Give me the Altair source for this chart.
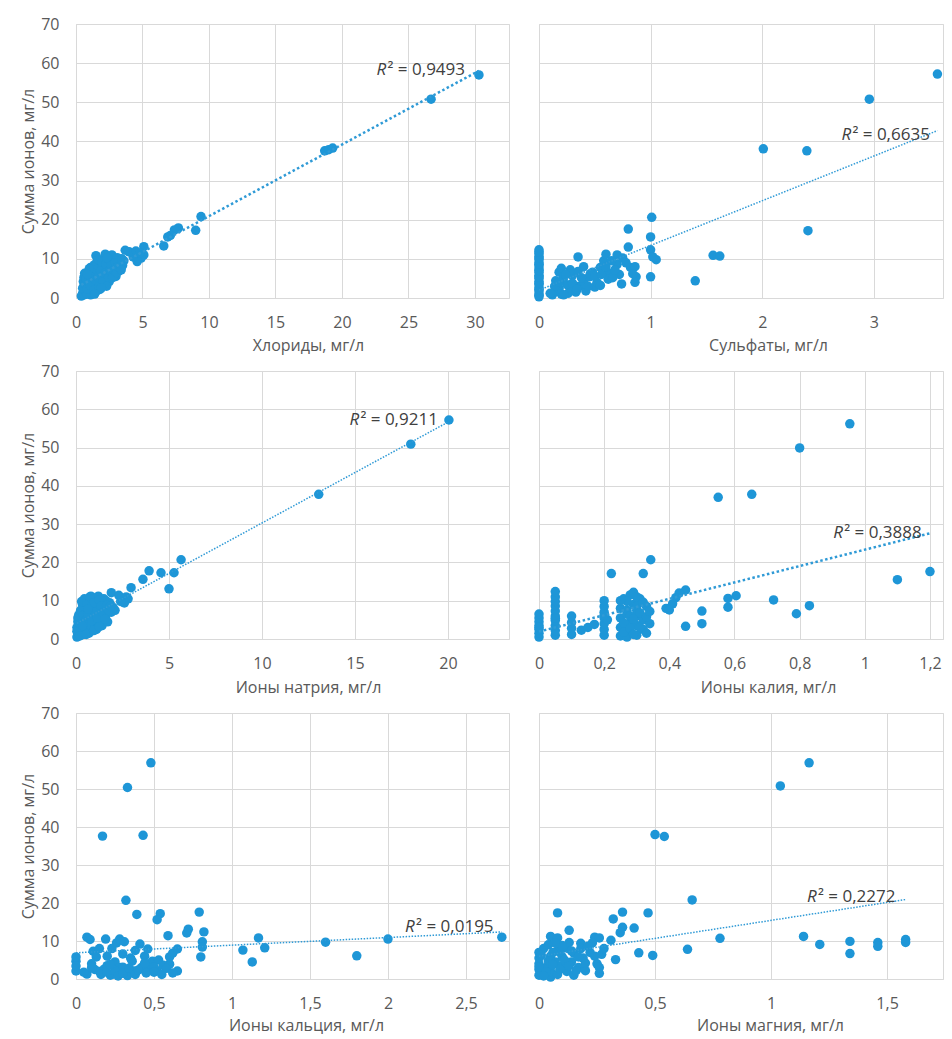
import altair as alt
import pandas as pd

FONT = "Open Sans"
BLUE = "#1E96D7"
LINE = "#2F9AD6"
GRID = "#D9D9D9"
AXIS_TXT = "#595959"
LABEL_TXT = "#404040"

Y_TITLE = "Сумма ионов, мг/л"
Y_TICKS = [0, 10, 20, 30, 40, 50, 60, 70]

# ---------- Хлориды ----------
chl_x = [30.3, 26.7, 18.7, 19.0, 19.3, 9.4, 9.0, 7.7, 7.4, 7.1, 6.9, 6.6, 5.1, 5.1, 4.9, 4.6, 4.3, 4.0, 3.7, 4.5, 4.8,
         0.4, 0.5, 0.6, 0.7, 0.6, 0.55, 0.6, 0.65, 0.9, 1.0, 0.8, 0.9, 1.0, 1.1, 1.2, 1.3, 1.2, 1.3, 1.4, 1.5, 1.6,
         1.5, 1.6, 1.5, 1.8, 1.8, 1.9, 2.0, 2.1, 2.2, 2.1, 2.3, 2.4, 2.5, 2.6, 2.7, 2.5, 2.8, 2.9, 3.0, 3.1, 3.3,
         3.2, 3.5, 3.6, 3.0, 1.1, 0.8, 2.0, 1.7,
         0.5, 0.7, 0.75, 0.85, 0.95, 1.05, 1.15, 1.25, 1.35, 1.45, 1.55, 1.65, 1.7, 1.75, 1.85, 1.95, 2.05,
         2.15, 2.25, 2.35, 2.45, 2.55, 2.65, 2.75, 2.85, 2.95, 3.05, 3.15, 3.4, 3.45, 1.0, 0.85, 2.3, 1.9, 1.4]
chl_y = [57.0, 50.8, 37.6, 37.9, 38.3, 20.8, 17.3, 17.9, 17.4, 16.0, 15.6, 13.3, 13.1, 11.0, 10.2, 9.3, 10.5, 11.8, 12.2, 12.0, 11.5,
         0.5, 1.2, 0.8, 2.0, 3.0, 4.2, 5.3, 6.3, 6.6, 5.5, 4.5, 3.2, 1.5, 0.8, 2.6, 4.0, 5.2, 7.0, 8.5, 10.8, 9.5,
         6.0, 3.2, 1.6, 2.2, 4.5, 6.5, 8.0, 10.0, 11.2, 3.5, 5.5, 7.2, 9.0, 10.6, 11.0, 4.2, 6.0, 8.0, 9.5, 10.3, 9.0,
         6.8, 8.3, 9.5, 5.5, 7.8, 1.0, 5.0, 7.5,
         2.5, 3.5, 5.0, 2.3, 4.2, 3.3, 6.2, 8.0, 2.0, 4.6, 7.2, 5.4, 9.8, 3.0, 7.0, 9.2, 4.2,
         6.3, 8.6, 10.2, 5.2, 7.0, 8.3, 5.2, 7.2, 9.0, 6.5, 8.0, 7.2, 10.0, 7.5, 6.0, 3.0, 2.6, 1.0]

# ---------- Сульфаты ----------
so4_x = [3.57, 2.96, 2.01, 2.40, 2.41, 1.01, 1.00, 1.56, 1.62, 1.40, 1.00, 1.05, 1.00, 1.02,
         0, 0, 0, 0, 0, 0, 0, 0, 0, 0, 0, 0, 0, 0, 0, 0,
         0.12, 0.14, 0.18, 0.18, 0.20, 0.22, 0.25, 0.26, 0.30, 0.30, 0.35, 0.35, 0.36, 0.40, 0.42, 0.45,
         0.48, 0.50, 0.52, 0.55, 0.58, 0.60, 0.62, 0.62, 0.70, 0.70, 0.72, 0.74, 0.75, 0.80, 0.80, 0.82,
         0.86, 0.87, 0.86, 0.65, 0.55, 0.28, 0.15, 0.40, 0.46, 0.20, 0.33,
         0, 0, 0, 0, 0, 0, 0, 0, 0.14, 0.18, 0.24, 0.30, 0.38, 0.44, 0.50, 0.56, 0.60, 0.66,
         0.68, 0.78, 0.84, 0.10, 0.22, 0.34]
so4_y = [57.2, 50.8, 38.1, 37.6, 17.2, 20.6, 15.6, 10.9, 10.7, 4.4, 5.4, 9.8, 12.3, 10.5,
         0.3, 1.0, 1.8, 2.6, 3.4, 4.2, 5.0, 5.8, 6.6, 7.4, 8.2, 9.0, 9.8, 10.6, 11.4, 12.3,
         0.8, 1.6, 2.4, 6.6, 7.6, 5.2, 3.4, 1.2, 2.0, 5.8, 10.5, 6.8, 3.0, 4.2, 1.8, 5.4,
         6.6, 2.8, 4.0, 7.8, 9.5, 11.2, 6.4, 4.8, 11.0, 8.6, 6.0, 3.6, 10.2, 17.6, 13.0, 7.8,
         8.0, 5.4, 4.0, 9.5, 3.2, 7.2, 4.4, 8.0, 6.2, 1.0, 1.5,
         0.7, 2.2, 3.8, 5.4, 7.0, 8.6, 10.2, 11.8, 3.0, 4.0, 6.0, 3.8, 5.2, 3.0, 5.5, 6.0, 8.0, 5.2,
         7.2, 9.0, 6.2, 1.2, 0.8, 2.2]

# ---------- Ионы натрия ----------
na_x = [20.05, 18.0, 13.05, 5.65, 5.27, 4.57, 3.93, 3.6, 5.0, 2.96, 2.8, 2.6, 1.9, 2.3, 2.1, 2.7, 2.4,
        0.05, 0.1, 0.05, 0.1, 0.15, 0.3, 0.3, 0.4, 0.45, 0.5, 0.5, 0.6, 0.6, 0.7, 0.75, 0.8, 0.9, 0.9,
        1.0, 1.0, 1.1, 1.2, 1.2, 1.3, 1.3, 1.4, 1.5, 1.5, 1.6, 1.7, 1.8, 1.9, 2.0, 0.35, 0.8, 1.1, 0.2,
        0.7, 1.6, 1.4,
        0.05, 0.1, 0.2, 0.25, 0.3, 0.4, 0.45, 0.55, 0.6, 0.65, 0.7, 0.75, 0.85, 0.85, 0.95, 1.05, 1.15,
        1.25, 1.35, 1.45, 1.55, 1.65, 1.75, 1.85, 0.2, 0.55, 0.95, 1.25, 0.35, 0.65]
na_y = [57.2, 50.9, 37.8, 20.7, 17.3, 17.3, 17.8, 15.6, 13.1, 13.4, 10.5, 9.4, 12.1, 11.4, 7.5, 11.0, 9.8,
        0.5, 1.5, 3.0, 4.5, 6.3, 5.5, 2.5, 1.2, 10.5, 8.5, 7.0, 4.0, 2.0, 9.8, 5.5, 3.0, 10.8, 7.5,
        6.0, 4.2, 2.5, 11.2, 9.0, 7.5, 5.0, 3.5, 10.5, 8.2, 6.0, 4.5, 9.5, 7.0, 8.2, 9.0, 11.2, 8.0, 2.2,
        1.5, 10.0, 9.8,
        2.0, 5.5, 4.0, 7.5, 9.8, 6.2, 3.2, 5.0, 9.0, 6.5, 3.8, 11.0, 8.5, 4.8, 9.5, 7.0, 5.5,
        10.2, 8.5, 6.8, 5.2, 8.8, 7.5, 8.5, 0.8, 1.2, 2.2, 3.2, 3.5, 7.8]

# ---------- Ионы калия ----------
k_x = [0.954, 0.80, 0.55, 0.653, 1.2, 1.1, 0.343, 0.222, 0.32, 0.72, 0.83, 0.79, 0.605, 0.58, 0.58, 0.50,
       0.50, 0.45, 0.45, 0.43, 0.42, 0.41, 0.39, 0.40,
       0, 0, 0, 0, 0, 0, 0,
       0.05, 0.05, 0.05, 0.05, 0.05, 0.05, 0.05, 0.05, 0.05, 0.05,
       0.1, 0.1, 0.1, 0.1, 0.13, 0.15, 0.17,
       0.2, 0.2, 0.2, 0.2, 0.2, 0.2, 0.2, 0.21,
       0.25, 0.25, 0.25, 0.25, 0.26, 0.27, 0.27, 0.28, 0.28, 0.29, 0.3, 0.3, 0.3, 0.3, 0.31, 0.32,
       0.32, 0.33, 0.34, 0.27, 0.29,
       0.26, 0.26, 0.27, 0.27, 0.28, 0.28, 0.29, 0.29, 0.3, 0.3, 0.31, 0.31, 0.32, 0.33, 0.33, 0.34,
       0.25, 0.2, 0.05, 0]
k_y = [56.2, 49.9, 37.0, 37.8, 17.6, 15.5, 20.7, 17.1, 17.1, 10.2, 8.7, 6.6, 11.3, 10.6, 8.3, 7.3,
       4.0, 3.3, 12.8, 12.0, 10.8, 9.2, 8.0, 7.6,
       0.5, 1.5, 2.5, 3.5, 4.5, 5.5, 6.5,
       1.0, 2.2, 3.5, 4.8, 6.0, 7.3, 8.6, 9.8, 11.0, 12.4,
       1.2, 2.8, 4.3, 6.0, 2.3, 3.0, 3.8,
       1.0, 2.5, 4.0, 5.5, 7.0, 8.5, 10.0, 5.0,
       0.8, 3.0, 5.5, 8.0, 10.5, 2.0, 6.5, 11.5, 4.2, 9.0, 1.0, 3.5, 6.0, 7.5, 10.5, 2.5,
       5.0, 8.5, 4.0, 0.5, 12.2,
       1.8, 4.2, 7.5, 9.8, 2.8, 6.0, 1.2, 5.2, 8.5, 11.0, 3.0, 6.8, 9.6, 1.5, 5.8, 7.2,
       10.0, 6.2, 5.4, 3.0]

# ---------- Ионы кальция ----------
ca_x = [0.48, 0.33, 0.17, 0.43, 0.32, 0.39, 0.54, 0.52, 0.79, 0.59, 0.72, 0.71, 0.82, 0.81, 0.81, 0.80,
        1.07, 1.13, 1.17, 1.21, 1.60, 1.80, 2.0, 2.73,
        0.0, 0.0, 0.0, 0.0, 0.07, 0.07, 0.09, 0.11, 0.13, 0.10, 0.15, 0.18, 0.19, 0.20, 0.22, 0.23,
        0.24, 0.25, 0.26, 0.28, 0.28, 0.30, 0.30, 0.31, 0.33, 0.35, 0.36, 0.37, 0.38, 0.41, 0.42, 0.44,
        0.46, 0.47, 0.49, 0.52, 0.53, 0.56, 0.60, 0.60, 0.62, 0.65, 0.65, 0.50, 0.20, 0.15,
        0.05, 0.12, 0.16, 0.20, 0.25, 0.27, 0.30, 0.34, 0.38, 0.40, 0.45, 0.50, 0.55, 0.58, 0.62,
        0.10, 0.22, 0.44]
ca_y = [56.9, 50.4, 37.6, 37.8, 20.7, 17.0, 17.2, 15.6, 17.6, 11.4, 13.1, 12.1, 12.4, 9.8, 8.4, 5.8,
        7.6, 4.5, 10.8, 8.2, 9.7, 6.1, 10.5, 11.0,
        4.7, 2.1, 5.8, 3.4, 1.3, 11.0, 10.4, 7.3, 5.8, 4.0, 8.0, 2.6, 10.5, 6.0, 1.0, 8.0,
        1.3, 4.5, 9.5, 10.5, 3.0, 6.6, 3.1, 9.8, 0.9, 5.5, 4.7, 2.1, 7.5, 9.2, 3.0, 6.0,
        7.9, 2.7, 4.7, 2.2, 5.0, 3.6, 3.9, 5.8, 6.8, 7.9, 2.1, 3.2, 3.5, 2.0,
        1.8, 2.5, 1.2, 1.8, 2.2, 0.8, 1.5, 2.8, 1.2, 2.4, 1.6, 1.8, 1.2, 2.8, 1.6,
        3.0, 3.8, 4.2]

# ---------- Ионы магния ----------
mg_x = [1.164, 1.04, 0.50, 0.54, 0.66, 0.08, 0.36, 0.47, 0.32, 0.41, 0.36, 0.35, 0.13, 0.05, 0.08, 0.78,
        1.14, 1.21, 1.34, 1.34, 1.46, 1.46, 1.58, 1.58, 0.64, 0.43, 0.49, 0.33, 0.31, 0.24, 0.26, 0.18,
        0.0, 0.0, 0.0, 0.0, 0.0, 0.02, 0.03, 0.05, 0.05, 0.05, 0.07, 0.08, 0.08, 0.10, 0.10, 0.12,
        0.12, 0.14, 0.15, 0.15, 0.17, 0.19, 0.20, 0.22, 0.23, 0.25, 0.26, 0.27, 0.13, 0.09, 0.18, 0.04,
        0.0, 0.01, 0.03, 0.04, 0.06, 0.06, 0.09, 0.10, 0.11, 0.13, 0.14, 0.16, 0.17, 0.20, 0.21, 0.24,
        0.26, 0.28, 0.02, 0.07]
mg_y = [56.9, 50.8, 38.0, 37.5, 20.8, 17.4, 17.6, 17.4, 15.8, 13.4, 13.6, 12.2, 12.8, 11.2, 10.8, 10.7,
        11.2, 9.1, 9.9, 6.7, 9.6, 8.6, 10.4, 9.6, 7.8, 6.9, 6.2, 5.1, 10.2, 11.0, 10.8, 9.4,
        1.0, 2.5, 4.0, 5.5, 7.0, 8.0, 3.0, 0.5, 2.0, 6.0, 4.5, 1.2, 7.5, 3.5, 5.8, 2.0,
        8.2, 4.5, 6.8, 1.0, 3.0, 5.5, 2.2, 7.0, 9.5, 4.0, 1.5, 6.5, 9.6, 7.0, 8.0, 9.0,
        3.2, 6.2, 1.8, 4.8, 7.0, 3.8, 2.5, 8.8, 5.0, 3.5, 7.4, 2.2, 5.8, 4.2, 8.6, 6.0,
        3.0, 8.0, 0.8, 9.5]

R2_TEXT = ["0,9493", "0,6635", "0,9211", "0,3888", "0,0195", "0,2272"]
X_TITLES = ["Хлориды, мг/л", "Сульфаты, мг/л", "Ионы натрия, мг/л",
            "Ионы калия, мг/л", "Ионы кальция, мг/л", "Ионы магния, мг/л"]
X_TICKS = [[0, 5, 10, 15, 20, 25, 30], [0, 1, 2, 3], [0, 5, 10, 15, 20],
           [0, 0.2, 0.4, 0.6, 0.8, 1, 1.2], [0, 0.5, 1, 1.5, 2, 2.5], [0, 0.5, 1, 1.5]]
X_MAX = [32.56, 3.62, 23.28, 1.24, 2.776, 1.741]
LAB_X = [22.6, 2.71, 14.7, 0.903, 2.11, 1.155]
LAB_Y = [57.0, 40.4, 55.9, 26.5, 12.3, 20.3]

LEFT_W = 433
RIGHT_W = 404
GAP = 30


def panel(i, xs, ys, width, height, left, title_x, lpad, tpad, dash, lw):
    pts = pd.DataFrame({"x": xs, "y": ys})
    lab = pd.DataFrame({"x": [LAB_X[i]], "y": [LAB_Y[i]], "t": ["\u00b2 = " + R2_TEXT[i]]})
    xsc = alt.Scale(domain=[0, X_MAX[i]], nice=False, zero=False)
    ysc = alt.Scale(domain=[0, 70], nice=False)
    xax = alt.Axis(values=X_TICKS[i], format="~g", labelExpr="replace(datum.label, '.', ',')",
                   title=X_TITLES[i], titleX=title_x, grid=True, ticks=False, tickSize=0,
                   domain=False, labelFlush=False, labelOverlap=False,
                   labelPadding=lpad, titlePadding=tpad)
    if left:
        yax = alt.Axis(values=Y_TICKS, title=Y_TITLE, grid=True, ticks=False, tickSize=0,
                       domain=False, labelPadding=17, titlePadding=4, labelOverlap=False)
    else:
        yax = alt.Axis(values=Y_TICKS, title=None, labels=False, grid=True, ticks=False,
                       tickSize=0, domain=False)
    X = alt.X("x:Q", scale=xsc, axis=xax)
    Y = alt.Y("y:Q", scale=ysc, axis=yax)
    base = alt.Chart(pts)
    points = base.mark_circle(size=90, color=BLUE, opacity=1).encode(x=X, y=Y)
    trend = base.transform_regression("x", "y").mark_line(
        color=LINE, strokeDash=dash, strokeWidth=lw).encode(x=X, y=Y)
    r_txt = alt.Chart(lab).mark_text(text="R", fontStyle="italic", align="left",
                                     baseline="alphabetic", font=FONT, fontSize=17,
                                     color=LABEL_TXT).encode(x=X, y=Y)
    rest = alt.Chart(lab).mark_text(align="left", baseline="alphabetic", dx=11, font=FONT,
                                    fontSize=17, color=LABEL_TXT).encode(x=X, y=Y, text="t:N")
    return alt.layer(points, trend, r_txt, rest).properties(width=width, height=height)


thick = ([2.5, 2.5], 2.5)
thin = ([1.5, 1.5], 1.5)

p1 = panel(0, chl_x, chl_y, LEFT_W, 274, True, 232, 16, 7, *thick)
p2 = panel(1, so4_x, so4_y, RIGHT_W, 274, False, 229, 16, 7, *thin)
p3 = panel(2, na_x, na_y, LEFT_W, 268, True, 232, 16, 8, *thin)
p4 = panel(3, k_x, k_y, RIGHT_W, 268, False, 229, 16, 8, *thick)
p5 = panel(4, ca_x, ca_y, LEFT_W, 266, True, 230, 16, 6, *thin)
p6 = panel(5, mg_x, mg_y, RIGHT_W, 266, False, 231, 16, 6, *thin)

row1 = alt.hconcat(p1, p2, spacing=GAP, bounds="flush")
row2 = alt.hconcat(p3, p4, spacing=GAP, bounds="flush")
row3 = alt.hconcat(p5, p6, spacing=GAP, bounds="flush")

chart = alt.vconcat(row1, row2, row3, spacing=8).properties(
    padding={"left": 12, "top": 7, "right": 0, "bottom": 0},
    background="white",
).configure_view(
    stroke=GRID, strokeWidth=1
).configure_axis(
    gridColor=GRID, gridWidth=1,
    labelFont=FONT, labelFontSize=16, labelColor=AXIS_TXT,
    titleFont=FONT, titleFontSize=16, titleFontWeight="normal", titleColor=AXIS_TXT,
)

chart.save("out.html", embed_options={"renderer": "svg", "actions": False})
